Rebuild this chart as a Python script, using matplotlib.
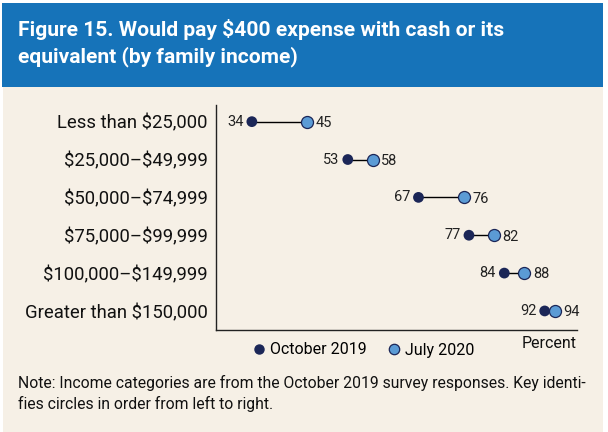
import matplotlib
matplotlib.use("Agg")
import matplotlib.pyplot as plt
from matplotlib.patches import Rectangle
from matplotlib.lines import Line2D

categories = ["Less than $25,000", "$25,000\u2013$49,999", "$50,000\u2013$74,999",
              "$75,000\u2013$99,999", "$100,000\u2013$149,999", "Greater than $150,000"]
oct2019 = [34, 53, 67, 77, 84, 92]
jul2020 = [45, 58, 76, 82, 88, 94]
series_names = ["October 2019", "July 2020"]

plt.rcParams['font.family'] = ["Roboto", "DejaVu Sans"]

navy = "#1b2657"
light = "#5b9bd5"
blue = "#1673b9"
cream = "#f6f0e6"

fig = plt.figure(figsize=(6.08, 4.32), dpi=100)
fig.patch.set_facecolor("white")
W, H = 608, 432
def fx(x): return x / W
def fy(y): return 1 - y / H

fig.patches.append(Rectangle((fx(3), 0), fx(603) - fx(3), fy(86), transform=fig.transFigure,
                             facecolor=cream, edgecolor="none", zorder=-5))
fig.patches.append(Rectangle((fx(2), fy(87)), fx(603) - fx(2), fy(3) - fy(87), transform=fig.transFigure,
                             facecolor=blue, edgecolor="none", zorder=-5))

renderer = fig.canvas.get_renderer()
def fit(t, target_px):
    bb = t.get_window_extent(renderer=renderer)
    t.set_fontsize(t.get_fontsize() * target_px / bb.width)

t1 = fig.text(fx(18), fy(30), "Figure 15. Would pay \\$400 expense with cash or its",
              color="white", fontsize=16, fontweight="bold", va="center", ha="left")
fit(t1, 487)
t2 = fig.text(fx(18), fy(57), "equivalent (by family income)",
              color="white", fontsize=t1.get_fontsize(), fontweight="bold", va="center", ha="left")

ax = fig.add_axes([fx(216), fy(329.5), fx(577) - fx(216), fy(105) - fy(329.5)])
ax.set_facecolor("none")
ys = list(range(len(categories)))
for i in ys:
    ax.plot([oct2019[i], jul2020[i]], [i, i], color="black", lw=1.0, zorder=2)
ax.scatter(oct2019, ys, s=60, color=navy, zorder=3, edgecolors="none")
ax.scatter(jul2020, ys, s=75, color=light, edgecolors=navy, linewidths=0.9, zorder=4)
for i in ys:
    ax.annotate(str(oct2019[i]), (oct2019[i], i), xytext=(-6, 0), textcoords="offset points",
                ha="right", va="center", fontsize=10.5, color="#222222")
    ax.annotate(str(jul2020[i]), (jul2020[i], i), xytext=(6, -1), textcoords="offset points",
                ha="left", va="center", fontsize=10.5, color="#222222")

ax.set_xlim(26.9, 98.4)
ax.set_ylim(5.49, -0.44)
ax.set_yticks(ys)
ax.set_yticklabels([c.replace("$", "\\$") for c in categories], fontsize=13.3, color="#111111")
ax.tick_params(axis="y", length=0, pad=6)
ax.set_xticks([])
for s in ["top", "right"]:
    ax.spines[s].set_visible(False)
for s in ["left", "bottom"]:
    ax.spines[s].set_color("#222222")
    ax.spines[s].set_linewidth(1.0)

fig.text(fx(577), fy(344), "Percent", ha="right", va="center", fontsize=11.5, color="#111111")

handles = [Line2D([], [], marker="o", ls="none", markersize=6.5, markerfacecolor=navy, markeredgecolor=navy),
           Line2D([], [], marker="o", ls="none", markersize=7.5, markerfacecolor=light, markeredgecolor=navy,
                  markeredgewidth=0.9)]
fig.legend(handles, series_names, loc="center", bbox_to_anchor=(fx(363), fy(350)), ncol=2,
           frameon=False, fontsize=11.5, handletextpad=0.2, columnspacing=1.2, handlelength=1.0)

n1 = fig.text(fx(18), fy(383), "Note: Income categories are from the October 2019 survey responses. Key identi-",
              ha="left", va="center", fontsize=11, color="#111111")
fit(n1, 567)
fig.text(fx(18), fy(404), "fies circles in order from left to right.",
         ha="left", va="center", fontsize=n1.get_fontsize(), color="#111111")

fig.savefig("out.png", dpi=100, facecolor=fig.get_facecolor())
